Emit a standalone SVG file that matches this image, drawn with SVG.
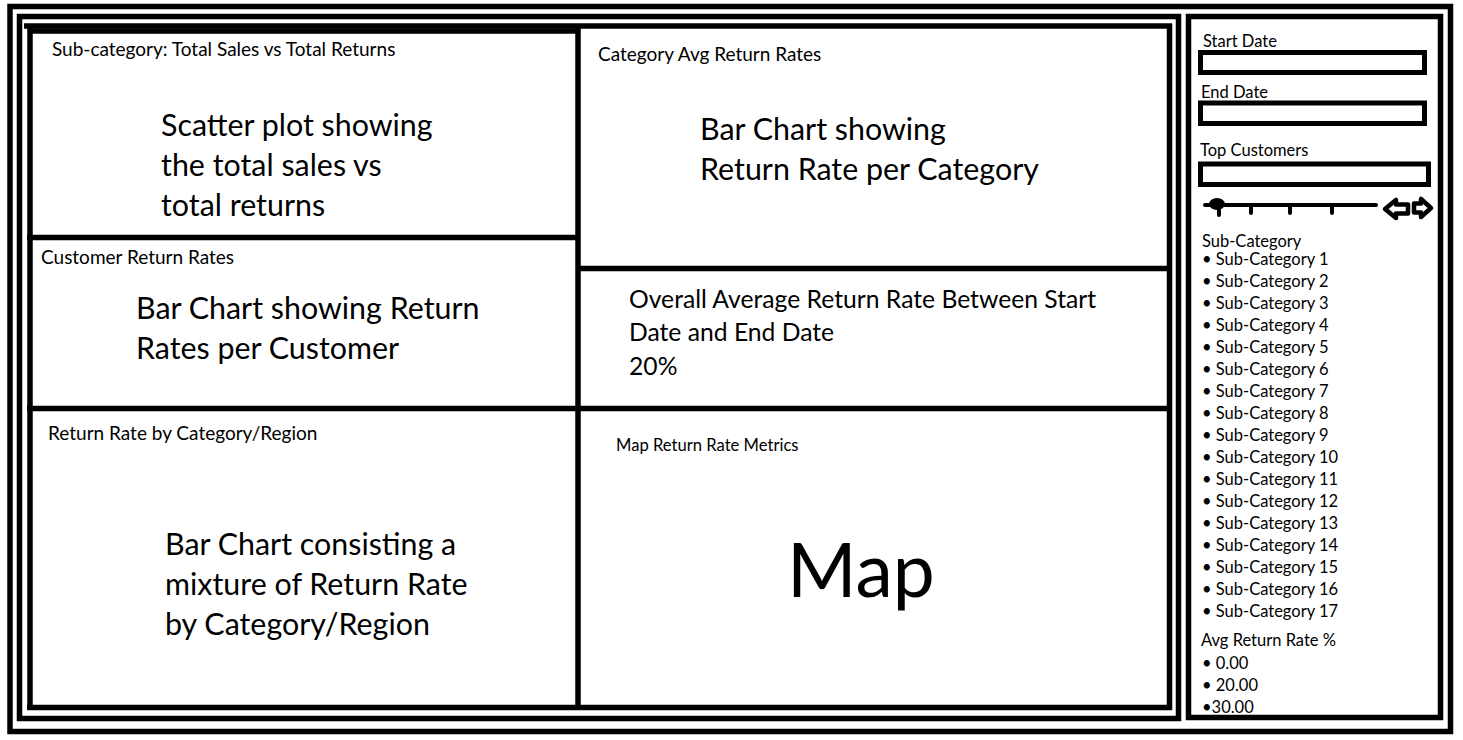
<svg xmlns="http://www.w3.org/2000/svg" width="1463" height="740" viewBox="0 0 1463 740">
<style>
.frame{fill:none;stroke:#000;stroke-width:5.5}
.ln{stroke:#000;stroke-width:5.5;fill:none}
.box{fill:none;stroke:#000;stroke-width:5}
text{font-family:Lato,"Open Sans","Noto Sans",sans-serif;fill:#000}
.t{font-size:19px}
.s{font-size:16.6px}
.big{font-size:30.4px}
.mid{font-size:24.7px}
.sb{font-size:16.5px}
.sl{stroke:#000;stroke-width:4;fill:none;stroke-linecap:round}
.arr{fill:#fff;stroke:#000;stroke-width:4.5;stroke-linejoin:round}
</style>
<rect width="1463" height="740" fill="#fff"/>
<g id="frames">
<rect class="frame" x="10" y="6.5" width="1440.5" height="725"/>
<rect class="frame" x="19.5" y="16.5" width="1159" height="702"/>
<line class="ln" x1="24" y1="26" x2="1172" y2="26"/>
</g>
<g id="panel-subcategory">
<path class="ln" d="M30,31 H578 M30,26 V707.5 M27,237.5 H578"/>
<text class="t" x="52" y="56">Sub-category: Total Sales vs Total Returns</text>
<text class="big" x="161" y="136">Scatter plot showing</text>
<text class="big" x="161" y="176">the total sales vs</text>
<text class="big" x="161" y="216">total returns</text>
</g>
<g id="panel-customer">
<text class="t" x="41" y="264">Customer Return Rates</text>
<text class="big" x="136" y="319">Bar Chart showing Return</text>
<text class="big" x="136" y="359">Rates per Customer</text>
</g>
<g id="panel-region">
<path class="ln" d="M27,408.5 H1172 M27,707.5 H1172 M578,26 V710"/>
<text class="t" x="48" y="440">Return Rate by Category/Region</text>
<text class="big" x="165" y="555">Bar Chart consisting a</text>
<text class="big" x="165" y="595">mixture of Return Rate</text>
<text class="big" x="165" y="635">by Category/Region</text>
</g>
<g id="panel-category">
<path class="ln" d="M1169.5,24 V710 M578,268.5 H1172"/>
<text class="t" x="598" y="61">Category Avg Return Rates</text>
<text class="big" x="700" y="140">Bar Chart showing</text>
<text class="big" x="700" y="180">Return Rate per Category</text>
</g>
<g id="panel-overall">
<text class="mid" x="629" y="308">Overall Average Return Rate Between Start</text>
<text class="mid" x="629" y="341">Date and End Date</text>
<text class="mid" x="629" y="375">20%</text>
</g>
<g id="panel-map">
<text class="s" x="616" y="451">Map Return Rate Metrics</text>
<text x="787" y="597" font-size="75">Map</text>
</g>
<g id="sidebar">
<rect class="frame" x="1188.5" y="16.5" width="252" height="701"/>
<text class="sb" x="1203" y="47">Start Date</text>
<rect class="box" x="1200.5" y="52.5" width="224" height="20"/>
<text class="sb" x="1201" y="98">End Date</text>
<rect class="box" x="1200.5" y="103" width="224" height="20.5"/>
<text class="sb" x="1200" y="156">Top Customers</text>
<rect class="box" x="1200.5" y="164" width="228" height="20.5"/>
<g id="slider">
<line class="sl" x1="1205" y1="205" x2="1376" y2="205"/>
<ellipse cx="1217" cy="204" rx="8" ry="6" fill="#000"/>
<line class="sl" x1="1219" y1="206" x2="1219" y2="215"/>
<line class="sl" x1="1251" y1="205" x2="1251" y2="213"/>
<line class="sl" x1="1290" y1="205" x2="1290" y2="213"/>
<line class="sl" x1="1332" y1="205" x2="1332" y2="213"/>
<polygon class="arr" points="1385,209 1396,200 1396,204.5 1408,204.5 1408,213.5 1396,213.5 1396,218"/>
<polygon class="arr" points="1431,208 1421,199 1421,203.5 1414,203.5 1414,212.5 1421,212.5 1421,217"/>
</g>
<text class="sb" x="1202" y="247">Sub-Category</text>
<g class="sb">
<text x="1202" y="265">• Sub-Category 1</text>
<text x="1202" y="287">• Sub-Category 2</text>
<text x="1202" y="309">• Sub-Category 3</text>
<text x="1202" y="331">• Sub-Category 4</text>
<text x="1202" y="353">• Sub-Category 5</text>
<text x="1202" y="375">• Sub-Category 6</text>
<text x="1202" y="397">• Sub-Category 7</text>
<text x="1202" y="419">• Sub-Category 8</text>
<text x="1202" y="441">• Sub-Category 9</text>
<text x="1202" y="463">• Sub-Category 10</text>
<text x="1202" y="485">• Sub-Category 11</text>
<text x="1202" y="507">• Sub-Category 12</text>
<text x="1202" y="529">• Sub-Category 13</text>
<text x="1202" y="551">• Sub-Category 14</text>
<text x="1202" y="573">• Sub-Category 15</text>
<text x="1202" y="595">• Sub-Category 16</text>
<text x="1202" y="617">• Sub-Category 17</text>
</g>
<text class="sb" x="1201" y="646">Avg Return Rate %</text>
<g class="sb">
<text x="1202" y="669">• 0.00</text>
<text x="1202" y="691">• 20.00</text>
<text x="1202" y="713">•30.00</text>
</g>
</g>
</svg>
